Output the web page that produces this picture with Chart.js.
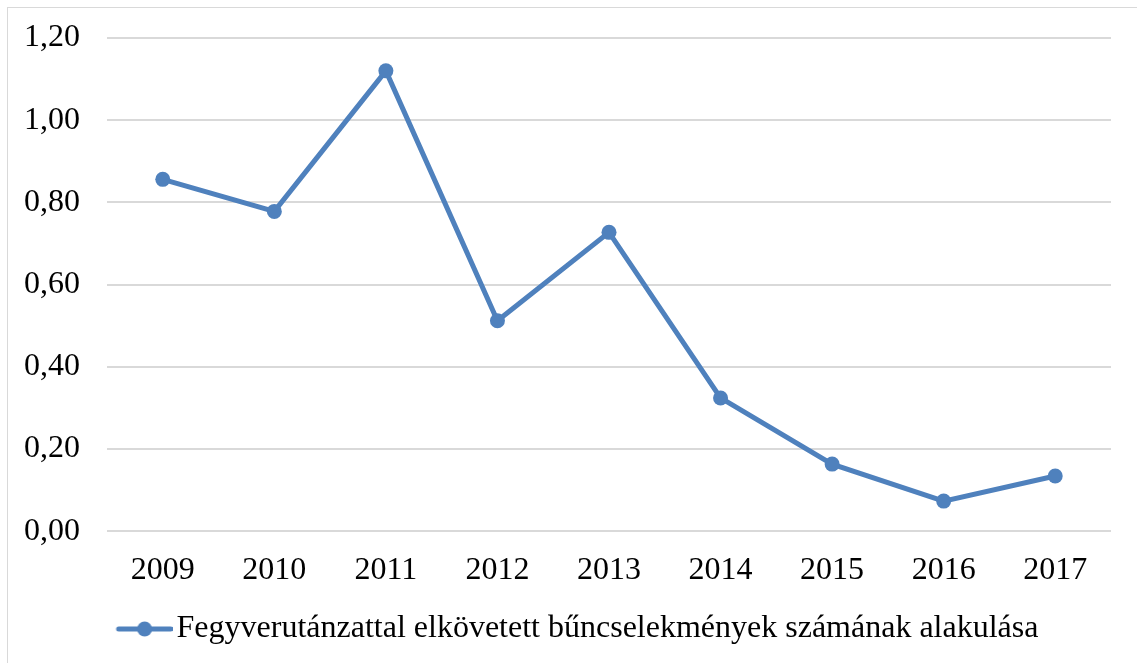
<!DOCTYPE html>
<html>
<head>
<meta charset="utf-8">
<script src="https://cdn.jsdelivr.net/npm/chart.js@4"></script>
<style>
  html, body { margin: 0; padding: 0; background: #fff; overflow: hidden; }
  #frame { position: absolute; left: 7px; top: 7px; width: 1140px; height: 670px; border: 1px solid #d9d9d9; box-sizing: border-box; }
  #wrap { position: absolute; left: 0; top: 0; width: 1137px; height: 663px; }
</style>
</head>
<body>
<div id="frame"></div>
<div id="wrap"><canvas id="c" width="1137" height="663"></canvas></div>
<script>
const categories = ['2009', '2010', '2011', '2012', '2013', '2014', '2015', '2016', '2017'];
const values = [0.856, 0.778, 1.12, 0.512, 0.727, 0.324, 0.163, 0.073, 0.134];
const seriesLabel = 'Fegyverutánzattal elkövetett bűncselekmények számának alakulása';
const yTicks = [0, 0.2, 0.4, 0.6, 0.8, 1.0, 1.2];

const blue = '#4f81bd';
const fontFamily = '"Liberation Serif", "Times New Roman", serif';

// legend marker: line with a dot (drawn in the right half of a centred image)
const marker = document.createElement('canvas');
marker.width = 112; marker.height = 18;
(function () {
  const g = marker.getContext('2d');
  g.strokeStyle = blue; g.lineWidth = 5; g.lineCap = 'round';
  g.beginPath(); g.moveTo(58, 9); g.lineTo(110, 9); g.stroke();
  g.fillStyle = blue; g.beginPath(); g.arc(84, 9, 7.5, 0, Math.PI * 2); g.fill();
})();

Chart.defaults.font.family = fontFamily;
Chart.defaults.color = '#000';

new Chart(document.getElementById('c'), {
  type: 'line',
  data: {
    labels: categories,
    datasets: [{
      label: seriesLabel,
      data: values,
      borderColor: blue,
      backgroundColor: blue,
      borderWidth: 5,
      pointRadius: 7.5,
      pointHoverRadius: 7.5,
      pointBackgroundColor: blue,
      pointBorderWidth: 0,
      tension: 0,
      pointStyle: 'circle'
    }]
  },
  options: {
    responsive: false,
    animation: false,
    events: [],
    layout: { padding: { left: 0, right: 26, top: 38, bottom: 8 } },
    scales: {
      x: {
        offset: true,
        grid: { display: false, drawTicks: false },
        border: { display: false },
        ticks: { font: { size: 32 }, color: '#000', padding: 20, maxRotation: 0 }
      },
      y: {
        min: 0, max: 1.2,
        afterBuildTicks: (s) => { s.ticks = yTicks.map(v => ({ value: v })); },
        afterFit: (s) => { s.width = 107; s.paddingTop = 0; s.paddingBottom = 0; },
        grid: { color: '#d9d9d9', lineWidth: 2, drawTicks: false },
        border: { display: false },
        ticks: {
          font: { size: 32 }, color: '#000', padding: 27,
          callback: (v) => Number(v).toFixed(2).replace('.', ',')
        }
      }
    },
    plugins: {
      tooltip: { enabled: false },
      legend: {
        position: 'bottom',
        labels: {
          usePointStyle: true,
          pointStyleWidth: 88,
          padding: 3.5,
          font: { size: 32 },
          color: '#000',
          generateLabels: (chart) => chart.data.datasets.map((d, i) => ({
            text: d.label,
            pointStyle: marker,
            fillStyle: blue,
            strokeStyle: blue,
            lineWidth: 0,
            hidden: false,
            datasetIndex: i
          }))
        }
      }
    }
  }
});
</script>
</body>
</html>
